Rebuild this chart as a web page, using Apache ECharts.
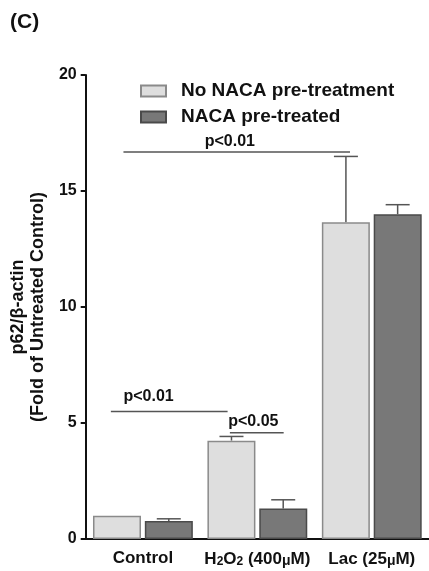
<!DOCTYPE html>
<html>
<head>
<meta charset="utf-8">
<script src="https://cdn.jsdelivr.net/npm/echarts@6/dist/echarts.min.js"></script>
<style>
html,body{margin:0;padding:0;background:#fff;}
#c{width:429px;height:571px;}
</style>
</head>
<body>
<div id="c"></div>
<script>
// ---- data ----
var categories = ['Control', 'H2O2 (400μM)', 'Lac (25μM)'];
var seriesNames = ['No NACA pre-treatment', 'NACA pre-treated'];
var noNaca = [1.0, 4.24, 13.65];
var noNacaErr = [0, 0.18, 2.84];
var naca = [0.78, 1.32, 14.0];
var nacaErr = [0.09, 0.37, 0.41];
var yTicks = [0, 5, 10, 15, 20];
// significance brackets: [xStart, xEnd, yLine] in category-band units from axis start / data units
var sigLines = [[0.33, 2.31, 16.68], [0.22, 1.24, 5.5], [1.26, 1.73, 4.58]];
// significance labels: [x, y, text]
var sigLabels = [[1.26, 17.14, 'p<0.01'], [0.55, 6.15, 'p<0.01'], [1.465, 5.07, 'p<0.05']];

var FONT = '"Liberation Sans", Arial, sans-serif';
var chart = echarts.init(document.getElementById('c'));

function errSeries(vals, errs, sign, name) {
  return {
    type: 'custom',
    name: name + ' err',
    xAxisIndex: 0,
    yAxisIndex: 0,
    silent: true,
    z: 1,
    data: vals.map(function (v, i) { return [i, v, v + errs[i]]; }),
    renderItem: function (params, api) {
      var i = api.value(0);
      var band = api.size([1, 0])[0];
      var off = band * 0.226 * sign;
      var p0 = api.coord([i, api.value(1)]);
      var p1 = api.coord([i, api.value(2)]);
      var x = p0[0] + off;
      if (Math.abs(p0[1] - p1[1]) < 0.5) return null;
      var style = { stroke: '#555', lineWidth: 1.5 };
      return {
        type: 'group',
        children: [
          { type: 'line', shape: { x1: x, y1: p0[1], x2: x, y2: p1[1] }, style: style },
          { type: 'line', shape: { x1: x - 12, y1: p1[1], x2: x + 12, y2: p1[1] }, style: style }
        ]
      };
    }
  };
}

var series = [
  {
    name: seriesNames[0], type: 'bar', data: noNaca,
    barWidth: 48, barGap: '8%', z: 2,
    itemStyle: { color: '#dedede', borderColor: '#8a8a8a', borderWidth: 1.5 }
  },
  {
    name: seriesNames[1], type: 'bar', data: naca,
    barWidth: 48, z: 2,
    itemStyle: { color: '#787878', borderColor: '#4a4a4a', borderWidth: 1.5 }
  },
  errSeries(noNaca, noNacaErr, -1, seriesNames[0]),
  errSeries(naca, nacaErr, 1, seriesNames[1])
];

sigLines.forEach(function (s) {
  series.push({
    type: 'line', xAxisIndex: 1, yAxisIndex: 0, silent: true,
    symbol: 'none', data: [[s[0], s[2]], [s[1], s[2]]],
    lineStyle: { color: '#555', width: 1.5 }, z: 3
  });
});
series.push({
  type: 'scatter', xAxisIndex: 1, yAxisIndex: 0, silent: true,
  symbolSize: 0,
  itemStyle: { opacity: 1 },
  data: sigLabels.map(function (l) { return { value: [l[0], l[1]], label: { formatter: l[2] } }; }),
  label: {
    show: true, position: 'inside', color: '#111', textBorderWidth: 0, opacity: 1,
    fontFamily: FONT, fontWeight: 'bold', fontSize: 16
  },
  z: 4
});

chart.setOption({
  animation: false,
  backgroundColor: '#fff',
  grid: { left: 84.5, right: 0, top: 75, bottom: 32, containLabel: false },
  graphic: [{
    type: 'text', left: 10, top: 12,
    style: { text: '(C)', font: 'bold 21px ' + FONT, fill: '#111' }
  }],
  legend: {
    data: seriesNames,
    orient: 'vertical', left: 140, top: 81, padding: 0,
    icon: 'rect',
    itemWidth: 25, itemHeight: 11, itemGap: 6,
    selectedMode: false,
    textStyle: { fontFamily: FONT, fontWeight: 'bold', fontSize: 19, lineHeight: 20, color: '#111', padding: [0, 0, 0, 10] }
  },
  xAxis: [
    {
      type: 'category', data: categories,
      axisLine: { lineStyle: { color: '#111', width: 2 } },
      axisTick: { alignWithLabel: true, length: 6, lineStyle: { color: '#111', width: 2 } },
      axisLabel: {
        interval: 0,
        margin: 11, color: '#111', fontFamily: FONT, fontWeight: 'bold', fontSize: 17,
        formatter: function (v) { return v.replace('H2O2', 'H{s|2}O{s|2}').replace('μ', '{m|μ}'); },
        rich: {
          s: { fontFamily: FONT, fontWeight: 'bold', fontSize: 12, color: '#111', verticalAlign: 'bottom', padding: [6, 0, 0, 0] },
          m: { fontFamily: FONT, fontWeight: 'bold', fontSize: 14, color: '#111', padding: [4, 0, 0, 0] }
        }
      }
    },
    { type: 'value', min: 0, max: 3, show: false }
  ],
  yAxis: {
    type: 'value', min: yTicks[0], max: yTicks[yTicks.length - 1], interval: 5,
    name: 'p62/β-actin\n(Fold of Untreated Control)',
    nameLocation: 'middle', nameGap: 32, nameRotate: 90,
    nameTextStyle: { fontFamily: FONT, fontWeight: 'bold', fontSize: 18, color: '#111', lineHeight: 20 },
    axisLine: { show: true, onZero: false, lineStyle: { color: '#111', width: 2 } },
    axisTick: { show: true, length: 5, lineStyle: { color: '#111', width: 2 } },
    axisLabel: { margin: 9, color: '#111', fontFamily: FONT, fontWeight: 'bold', fontSize: 16 },
    splitLine: { show: false }
  },
  series: series
});
</script>
</body>
</html>
